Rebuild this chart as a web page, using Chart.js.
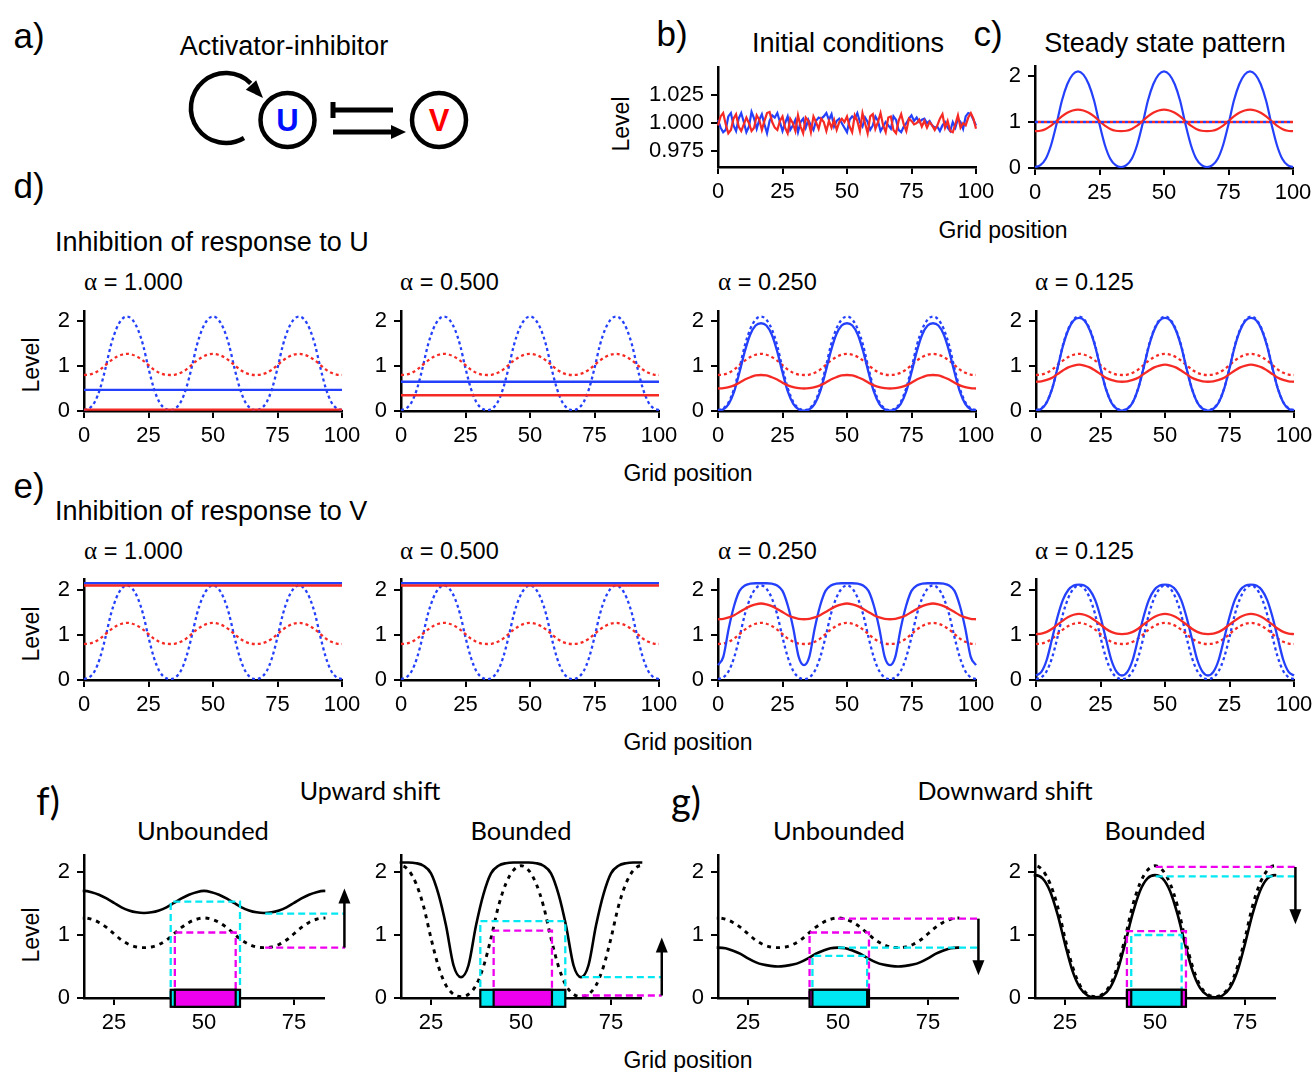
<!DOCTYPE html>
<html>
<head>
<meta charset="utf-8">
<script src="https://cdn.jsdelivr.net/npm/chart.js@4.4.1/dist/chart.umd.min.js"></script>
<style>
  body { margin: 0; width: 1312px; height: 1072px; background: #fff; position: relative; overflow: hidden;
         font-family: 'Liberation Sans', Arial, sans-serif; color: #000; }
  .c { position: absolute; white-space: nowrap; transform: translate(-50%, -50%); line-height: 1; }
  .l { position: absolute; white-space: nowrap; transform: translateY(-50%); line-height: 1; }
  .lv { position: absolute; white-space: nowrap; transform: translate(-50%, -50%) rotate(-90deg); font-size: 23px; line-height: 1; }
  .cal { font-family: Lato, 'Open Sans', sans-serif; }
  .al { font-family: 'Liberation Serif', serif; font-size: 25px; }
  .pl { font-size: 35px; }
  .tt { font-size: 27px; }
  .at { font-size: 23.5px; }
  .gp { font-size: 23px; }
  canvas { position: absolute; }
</style>
</head>
<body>

<!-- a) diagram -->
<svg width="520" height="180" style="position:absolute;left:0;top:0">
  <path d="M 244 138 A 35 35 0 1 1 250.7 83.3" fill="none" stroke="#000" stroke-width="4.5"/>
  <polygon points="263,98 256.2,80.3 245.8,89.7" fill="#000"/>
  <circle cx="287.5" cy="120" r="27" fill="none" stroke="#000" stroke-width="4.5"/>
  <circle cx="439" cy="120" r="27" fill="none" stroke="#000" stroke-width="4.5"/>
  <text x="287.5" y="131" text-anchor="middle" font-family="Liberation Sans, Arial" font-weight="bold" font-size="31" fill="#0010ff">U</text>
  <text x="439" y="131" text-anchor="middle" font-family="Liberation Sans, Arial" font-weight="bold" font-size="31" fill="#ff0000">V</text>
  <line x1="333" y1="110" x2="393" y2="110" stroke="#000" stroke-width="5"/>
  <line x1="333" y1="102" x2="333" y2="118" stroke="#000" stroke-width="5"/>
  <line x1="333" y1="132" x2="393" y2="132" stroke="#000" stroke-width="5"/>
  <polygon points="391,125 406,132 391,139" fill="#000"/>
</svg>

<div class="c pl" style="left:29px;top:35px">a)</div>
<div class="c tt" style="left:284px;top:46px">Activator-inhibitor</div>
<div class="c pl" style="left:672px;top:33px">b)</div>
<div class="c tt" style="left:848px;top:43px">Initial conditions</div>
<div class="c pl" style="left:988px;top:33px">c)</div>
<div class="c tt" style="left:1165px;top:43px">Steady state pattern</div>
<div class="lv" style="left:621px;top:124px">Level</div>
<div class="c gp" style="left:1003px;top:230px">Grid position</div>

<div class="c pl" style="left:29px;top:185px">d)</div>
<div class="l tt" style="left:55px;top:242px">Inhibition of response to U</div>
<div class="l at" style="left:84px;top:282px"><span class="al">α</span> = 1.000</div>
<div class="l at" style="left:400px;top:282px"><span class="al">α</span> = 0.500</div>
<div class="l at" style="left:718px;top:282px"><span class="al">α</span> = 0.250</div>
<div class="l at" style="left:1035px;top:282px"><span class="al">α</span> = 0.125</div>
<div class="lv" style="left:31px;top:365px">Level</div>
<div class="c gp" style="left:688px;top:473px">Grid position</div>

<div class="c pl" style="left:29px;top:485px">e)</div>
<div class="l tt" style="left:55px;top:511px">Inhibition of response to V</div>
<div class="l at" style="left:84px;top:551px"><span class="al">α</span> = 1.000</div>
<div class="l at" style="left:400px;top:551px"><span class="al">α</span> = 0.500</div>
<div class="l at" style="left:718px;top:551px"><span class="al">α</span> = 0.250</div>
<div class="l at" style="left:1035px;top:551px"><span class="al">α</span> = 0.125</div>
<div class="lv" style="left:31px;top:634px">Level</div>
<div class="c gp" style="left:688px;top:742px">Grid position</div>

<div class="c cal" style="left:48px;top:800px;font-size:38px">f)</div>
<div class="c cal" style="left:370px;top:790px;font-size:25px">Upward shift</div>
<div class="c cal" style="left:686px;top:800px;font-size:38px">g)</div>
<div class="c cal" style="left:1005px;top:790px;font-size:25px">Downward shift</div>
<div class="c cal" style="left:203px;top:831px;font-size:25.5px">Unbounded</div>
<div class="c cal" style="left:521px;top:831px;font-size:25.5px">Bounded</div>
<div class="c cal" style="left:839px;top:831px;font-size:25.5px">Unbounded</div>
<div class="c cal" style="left:1155px;top:831px;font-size:25.5px">Bounded</div>
<div class="lv" style="left:31px;top:935px">Level</div>
<div class="c gp" style="left:688px;top:1060px">Grid position</div>

<script>
// ---- data ----
const xTicks = [0, 25, 50, 75, 100];
const xTickLabels = ['0', '25', '50', '75', '100'];
const xTickLabelsE4 = ['0', '25', '50', 'z5', '100'];
const zoomTicks = [25, 50, 75];
const zoomTickLabels = ['25', '50', '75'];
const levelTicks = [0, 1, 2];
const levelTickLabels = ['0', '1', '2'];
const noiseTicks = [0.975, 1.000, 1.025];
const noiseTickLabels = ['0.975', '1.000', '1.025'];

// initial conditions (grid position 0..100)
const noiseBlue = [
  1.003, 0.996, 0.992, 0.994, 1.006, 1.009, 0.998, 0.993, 1.004, 1.009,
  1.001, 0.992, 0.997, 1.010, 1.004, 0.995, 1.003, 1.008, 0.999, 0.991,
  1.002, 1.007, 1.005, 1.009, 1.001, 0.993, 1.000, 1.006, 0.994, 0.998,
  1.003, 0.992, 1.001, 1.004, 0.996, 1.003, 0.998, 0.994, 1.002, 1.005,
  1.004, 1.006, 1.009, 1.003, 1.008, 0.997, 1.002, 1.004, 1.000, 0.996,
  0.992, 1.003, 1.006, 1.004, 1.009, 1.001, 0.997, 1.005, 1.001, 0.994,
  0.998, 1.006, 1.002, 0.993, 0.997, 1.001, 0.998, 0.995, 1.006, 1.003,
  0.994, 0.992, 0.997, 1.000, 1.004, 1.007, 1.002, 1.005, 1.001, 1.003,
  1.004, 1.000, 1.002, 0.998, 0.996, 0.997, 0.993, 0.998, 1.001, 0.996,
  0.993, 1.001, 0.996, 1.004, 1.001, 0.995, 1.006, 1.009, 1.008, 1.003, 0.998
];
const noiseRed = [
  0.998, 1.006, 1.009, 0.999, 0.991, 0.994, 1.004, 1.008, 0.997, 0.993,
  0.999, 1.005, 1.000, 0.993, 0.996, 1.007, 1.003, 0.994, 1.002, 1.009,
  1.010, 1.001, 0.996, 0.994, 1.002, 1.006, 0.996, 0.991, 1.004, 1.000,
  0.993, 1.007, 0.997, 0.991, 1.005, 1.002, 0.992, 1.006, 1.001, 0.995,
  1.004, 1.001, 0.993, 1.002, 0.996, 1.003, 0.994, 1.001, 1.004, 1.001,
  1.006, 0.997, 0.992, 1.007, 1.002, 0.993, 1.009, 1.000, 0.991, 1.006,
  1.008, 0.995, 1.001, 1.009, 0.998, 0.992, 1.005, 1.006, 0.994, 0.991,
  1.002, 1.008, 0.999, 0.993, 1.004, 1.002, 0.999, 1.000, 1.003, 0.997,
  1.002, 0.996, 1.001, 0.998, 0.994, 0.998, 1.004, 1.008, 0.996, 1.002,
  0.993, 0.992, 0.999, 1.007, 0.996, 1.000, 0.998, 1.005, 1.009, 1.004, 0.995
];

// sampled grid positions for the patterns
const gridX = [0, 2.08, 4.17, 6.25, 8.33, 10.42, 12.5, 14.58, 16.67, 18.75, 20.83, 22.92, 25, 27.08, 29.17, 31.25,
  33.33, 35.42, 37.5, 39.58, 41.67, 43.75, 45.83, 47.92, 50, 52.08, 54.17, 56.25, 58.33, 60.42, 62.5, 64.58,
  66.67, 68.75, 70.83, 72.92, 75, 77.08, 79.17, 81.25, 83.33, 85.42, 87.5, 89.58, 91.67, 93.75, 95.83, 97.92, 100];

// steady state pattern (also dotted reference in d, e)
const steadyU = [
  0.02, 0.06, 0.20, 0.50, 0.95, 1.46, 1.82, 2.03, 2.10, 2.03, 1.82, 1.46, 0.95, 0.50, 0.20, 0.06,
  0.02, 0.06, 0.20, 0.50, 0.95, 1.46, 1.82, 2.03, 2.10, 2.03, 1.82, 1.46, 0.95, 0.50, 0.20, 0.06,
  0.02, 0.06, 0.20, 0.50, 0.95, 1.46, 1.82, 2.03, 2.10, 2.03, 1.82, 1.46, 0.95, 0.50, 0.20, 0.06, 0.02];
const steadyV = [
  0.80, 0.81, 0.85, 0.92, 1.02, 1.12, 1.20, 1.25, 1.27, 1.25, 1.20, 1.12, 1.02, 0.92, 0.85, 0.81,
  0.80, 0.81, 0.85, 0.92, 1.02, 1.12, 1.20, 1.25, 1.27, 1.25, 1.20, 1.12, 1.02, 0.92, 0.85, 0.81,
  0.80, 0.81, 0.85, 0.92, 1.02, 1.12, 1.20, 1.25, 1.27, 1.25, 1.20, 1.12, 1.02, 0.92, 0.85, 0.81, 0.80];
const flatX = [0, 100];
const initLevel = [1, 1];

// d) inhibition of response to U
const dU1 = [0.47, 0.47];
const dV1 = [0.03, 0.03];
const dU2 = [0.65, 0.65];
const dV2 = [0.35, 0.35];
const dU3 = [
  0.01, 0.04, 0.16, 0.43, 0.86, 1.33, 1.70, 1.90, 1.95, 1.90, 1.70, 1.33, 0.86, 0.43, 0.16, 0.04,
  0.01, 0.04, 0.16, 0.43, 0.86, 1.33, 1.70, 1.90, 1.95, 1.90, 1.70, 1.33, 0.86, 0.43, 0.16, 0.04,
  0.01, 0.04, 0.16, 0.43, 0.86, 1.33, 1.70, 1.90, 1.95, 1.90, 1.70, 1.33, 0.86, 0.43, 0.16, 0.04, 0.01];
const dV3 = [
  0.50, 0.51, 0.53, 0.57, 0.63, 0.70, 0.75, 0.79, 0.80, 0.79, 0.75, 0.70, 0.63, 0.57, 0.53, 0.51,
  0.50, 0.51, 0.53, 0.57, 0.63, 0.70, 0.75, 0.79, 0.80, 0.79, 0.75, 0.70, 0.63, 0.57, 0.53, 0.51,
  0.50, 0.51, 0.53, 0.57, 0.63, 0.70, 0.75, 0.79, 0.80, 0.79, 0.75, 0.70, 0.63, 0.57, 0.53, 0.51, 0.50];
const dU4 = [
  0.01, 0.05, 0.19, 0.49, 0.95, 1.44, 1.80, 2.01, 2.07, 2.01, 1.80, 1.44, 0.95, 0.49, 0.19, 0.05,
  0.01, 0.05, 0.19, 0.49, 0.95, 1.44, 1.80, 2.01, 2.07, 2.01, 1.80, 1.44, 0.95, 0.49, 0.19, 0.05,
  0.01, 0.05, 0.19, 0.49, 0.95, 1.44, 1.80, 2.01, 2.07, 2.01, 1.80, 1.44, 0.95, 0.49, 0.19, 0.05, 0.01];
const dV4 = [
  0.65, 0.66, 0.69, 0.74, 0.82, 0.90, 0.97, 1.01, 1.03, 1.01, 0.97, 0.90, 0.82, 0.74, 0.69, 0.66,
  0.65, 0.66, 0.69, 0.74, 0.82, 0.90, 0.97, 1.01, 1.03, 1.01, 0.97, 0.90, 0.82, 0.74, 0.69, 0.66,
  0.65, 0.66, 0.69, 0.74, 0.82, 0.90, 0.97, 1.01, 1.03, 1.01, 0.97, 0.90, 0.82, 0.74, 0.69, 0.66, 0.65];

// e) inhibition of response to V
const eU1 = [2.15, 2.15];
const eV1 = [2.10, 2.10];
const eU2 = [2.15, 2.15];
const eV2 = [2.10, 2.10];
const eU3 = [
  0.33, 0.52, 1.15, 1.65, 1.98, 2.10, 2.14, 2.15, 2.15, 2.15, 2.14, 2.10, 1.98, 1.65, 1.15, 0.52,
  0.33, 0.52, 1.15, 1.65, 1.98, 2.10, 2.14, 2.15, 2.15, 2.15, 2.14, 2.10, 1.98, 1.65, 1.15, 0.52,
  0.33, 0.52, 1.15, 1.65, 1.98, 2.10, 2.14, 2.15, 2.15, 2.15, 2.14, 2.10, 1.98, 1.65, 1.15, 0.52, 0.33];
const eV3 = [
  1.35, 1.36, 1.39, 1.44, 1.51, 1.58, 1.64, 1.68, 1.70, 1.68, 1.64, 1.58, 1.51, 1.44, 1.39, 1.36,
  1.35, 1.36, 1.39, 1.44, 1.51, 1.58, 1.64, 1.68, 1.70, 1.68, 1.64, 1.58, 1.51, 1.44, 1.39, 1.36,
  1.35, 1.36, 1.39, 1.44, 1.51, 1.58, 1.64, 1.68, 1.70, 1.68, 1.64, 1.58, 1.51, 1.44, 1.39, 1.36, 1.35];
const eU4 = [
  0.10, 0.18, 0.45, 0.92, 1.40, 1.78, 2.00, 2.10, 2.12, 2.10, 2.00, 1.78, 1.40, 0.92, 0.45, 0.18,
  0.10, 0.18, 0.45, 0.92, 1.40, 1.78, 2.00, 2.10, 2.12, 2.10, 2.00, 1.78, 1.40, 0.92, 0.45, 0.18,
  0.10, 0.18, 0.45, 0.92, 1.40, 1.78, 2.00, 2.10, 2.12, 2.10, 2.00, 1.78, 1.40, 0.92, 0.45, 0.18, 0.10];
const eV4 = [
  1.02, 1.03, 1.07, 1.14, 1.23, 1.32, 1.40, 1.45, 1.47, 1.45, 1.40, 1.32, 1.23, 1.14, 1.07, 1.03,
  1.02, 1.03, 1.07, 1.14, 1.23, 1.32, 1.40, 1.45, 1.47, 1.45, 1.40, 1.32, 1.23, 1.14, 1.07, 1.03,
  1.02, 1.03, 1.07, 1.14, 1.23, 1.32, 1.40, 1.45, 1.47, 1.45, 1.40, 1.32, 1.23, 1.14, 1.07, 1.03, 1.02];

// f/g) thresholds: boxes [left, right, top], lines [from, to, level], arrows [x, from, to]
const fUnbCyanBox = [40.75, 60.0, 1.53];
const fUnbMagBox = [41.9, 58.8, 1.04];
const fUnbCyanLine = [67.0, 89.2, 1.34];
const fUnbMagLine = [67.0, 89.2, 0.80];
const fUnbArrow = [89.0, 0.80, 1.74];

const fBndCyanBox = [38.7, 62.3, 1.22];
const fBndMagBox = [42.4, 58.6, 1.07];
const fBndCyanLine = [66.9, 89.1, 0.33];
const fBndMagLine = [66.9, 89.1, 0.04];
const fBndArrow = [89.1, 0.04, 0.96];

const gUnbMagBox = [42.1, 58.6, 1.04];
const gUnbCyanBox = [42.9, 58.1, 0.67];
const gUnbMagLine = [50.0, 89.0, 1.26];
const gUnbCyanLine = [50.0, 89.0, 0.80];
const gUnbArrow = [89.0, 1.26, 0.36];

const gBndMagBox = [42.2, 58.6, 1.06];
const gBndCyanBox = [43.4, 57.4, 1.00];
const gBndMagLine = [50.2, 89.0, 2.08];
const gBndCyanLine = [50.2, 89.0, 1.93];
const gBndArrow = [89.0, 2.08, 1.17];

// ---- styling ----
const BLUE = 'rgb(36,64,250)';
const RED = 'rgb(246,42,36)';
const CYAN = 'rgb(0,232,242)';
const MAGENTA = 'rgb(238,0,238)';
const BAR_LO = -0.14, BAR_HI = 0.13;
const YW = 75, XH = 36, PT = 24, PR = 34;
const tickFont = {family: "'Liberation Sans', Arial, sans-serif", size: 22};

function pts(xs, ys) {
  return ys.map((v, i) => ({x: xs[i], y: v}));
}
function curve(xs, ys, color, width, dash, order) {
  return {data: pts(xs, ys), borderColor: color, borderWidth: width, borderDash: dash || [],
    cubicInterpolationMode: 'monotone', pointRadius: 0, fill: false, order: order};
}
function jagged(xs, ys, color, order) {
  return {data: pts(xs, ys), borderColor: color, borderWidth: 2.2, tension: 0, pointRadius: 0, fill: false, order: order};
}
function dashBox(b, color) {
  return {data: [{x: b[0], y: 0}, {x: b[0], y: b[2]}, {x: b[1], y: b[2]}, {x: b[1], y: 0}],
    borderColor: color, borderWidth: 2.3, borderDash: [7, 4], tension: 0, pointRadius: 0, fill: false, clip: false, order: 0};
}
function dashLine(b, color) {
  return {data: [{x: b[0], y: b[2]}, {x: b[1], y: b[2]}],
    borderColor: color, borderWidth: 2.3, borderDash: [7, 4], tension: 0, pointRadius: 0, fill: false, clip: false, order: 0};
}

// bars under the axis and vertical arrows, drawn through the chart scales
function markPlugin(bars, arrows) {
  return {
    id: 'marks',
    afterDraw(chart) {
      const ctx = chart.ctx, x = chart.scales.x, y = chart.scales.y;
      ctx.save();
      bars.forEach(b => {
        const l = x.getPixelForValue(b[0]), r = x.getPixelForValue(b[1]);
        const t = y.getPixelForValue(BAR_HI), bt = y.getPixelForValue(BAR_LO);
        ctx.fillStyle = b[2];
        ctx.fillRect(l, t, r - l, bt - t);
        ctx.strokeStyle = '#000';
        ctx.lineWidth = 2.2;
        ctx.strokeRect(l, t, r - l, bt - t);
      });
      arrows.forEach(a => {
        const px = x.getPixelForValue(a[0]), p0 = y.getPixelForValue(a[1]), p1 = y.getPixelForValue(a[2]);
        const dir = p1 < p0 ? -1 : 1;
        ctx.strokeStyle = '#000';
        ctx.fillStyle = '#000';
        ctx.lineWidth = 2.5;
        ctx.beginPath();
        ctx.moveTo(px, p0);
        ctx.lineTo(px, p1 - dir * 8);
        ctx.stroke();
        ctx.beginPath();
        ctx.moveTo(px, p1);
        ctx.lineTo(px - 6, p1 - dir * 15);
        ctx.lineTo(px + 6, p1 - dir * 15);
        ctx.closePath();
        ctx.fill();
      });
      ctx.restore();
    }
  };
}

function makeChart(area, datasets, o) {
  const cv = document.createElement('canvas');
  const w = area[2] - area[0] + YW + PR, h = area[3] - area[1] + PT + XH;
  cv.width = w;
  cv.height = h;
  cv.style.left = (area[0] - YW) + 'px';
  cv.style.top = (area[1] - PT) + 'px';
  cv.style.width = w + 'px';
  cv.style.height = h + 'px';
  document.body.appendChild(cv);
  const axisBase = {
    type: 'linear', bounds: 'data',
    grid: {drawOnChartArea: false, drawTicks: true, tickLength: 7, color: '#000', lineWidth: 2},
    border: {display: true, color: '#000', width: 2.5}
  };
  new Chart(cv, {
    type: 'line',
    data: {datasets: datasets},
    options: {
      responsive: false, animation: false, events: [],
      layout: {padding: {left: 0, top: PT, right: PR, bottom: 0}},
      plugins: {legend: {display: false}, tooltip: {enabled: false}},
      elements: {point: {radius: 0}},
      scales: {
        x: Object.assign({}, axisBase, {
          afterDataLimits: s => { s.min = o.xMin; s.max = o.xMax; },
          afterBuildTicks: s => { s.ticks = o.xTicks.map(v => ({value: v})); },
          afterFit: s => { s.height = XH; },
          ticks: {callback: (v, i) => o.xLabels[i], font: tickFont, color: '#000', padding: 5, maxRotation: 0, autoSkip: false}
        }),
        y: Object.assign({}, axisBase, {
          min: o.yMin, max: o.yMax,
          afterBuildTicks: s => { s.ticks = o.yTicks.map(v => ({value: v})); },
          afterFit: s => { s.width = YW; },
          ticks: {callback: (v, i) => o.yLabels[i], font: tickFont, color: '#000', padding: 7, autoSkip: false}
        })
      }
    },
    plugins: [markPlugin(o.bars || [], o.arrows || [])]
  });
}

const fullX = {xMin: 0, xMax: 100, xTicks: xTicks, xLabels: xTickLabels, yTicks: levelTicks, yLabels: levelTickLabels};
const noiseX = noiseBlue.map((v, i) => i);

// b) initial conditions
makeChart([718, 67, 976, 167], [
  jagged(noiseX, noiseRed, RED, 1),
  jagged(noiseX, noiseBlue, BLUE, 2)
], {xMin: 0, xMax: 100, xTicks: xTicks, xLabels: xTickLabels, yMin: 0.961, yMax: 1.050, yTicks: noiseTicks, yLabels: noiseTickLabels});

// c) steady state
const dotRed = Object.assign(curve(flatX, initLevel, RED, 2.6, [3, 3], 0), {borderDashOffset: 3});
makeChart([1035, 66, 1293, 168], [
  dotRed,
  curve(flatX, initLevel, BLUE, 2.6, [3, 3], 0),
  curve(gridX, steadyV, RED, 2.2, null, 1),
  curve(gridX, steadyU, BLUE, 2.2, null, 2)
], Object.assign({}, fullX, {yMin: 0, yMax: 2.217}));

// d) and e) rows
const colsX = [[84, 342], [401, 659], [718, 976], [1036, 1294]];
const dRows = [[flatX, dU1, dV1], [flatX, dU2, dV2], [gridX, dU3, dV3], [gridX, dU4, dV4]];
const eRows = [[flatX, eU1, eV1], [flatX, eU2, eV2], [gridX, eU3, eV3], [gridX, eU4, eV4]];
function rowCharts(rows, top, bottom, yMax, labelsFor) {
  rows.forEach((r, i) => {
    makeChart([colsX[i][0], top, colsX[i][1], bottom], [
      curve(r[0], r[2], RED, 2.3, null, 1),
      curve(r[0], r[1], BLUE, 2.3, null, 2),
      curve(gridX, steadyV, RED, 2.3, [3, 3], 3),
      curve(gridX, steadyU, BLUE, 2.3, [3, 3], 4)
    ], Object.assign({}, fullX, {yMin: 0, yMax: yMax, xLabels: labelsFor(i)}));
  });
}
rowCharts(dRows, 311, 411, 2.222, i => xTickLabels);
rowCharts(eRows, 579, 680, 2.244, i => (i === 3 ? xTickLabelsE4 : xTickLabels));

// f) and g)
const zoomOpts = {xMin: 16.67, xMax: 83.33, xTicks: zoomTicks, xLabels: zoomTickLabels, yMin: 0, yMax: 2.27, yTicks: levelTicks, yLabels: levelTickLabels};
function shiftChart(x0, solid, dotted, boxes, lines, bars, arrow) {
  const ds = [
    curve(gridX, solid, '#000', 2.6, null, 2),
    curve(gridX, dotted, '#000', 2.9, [4, 5], 3)
  ];
  boxes.forEach(b => ds.push(dashBox(b[0], b[1])));
  lines.forEach(l => ds.push(dashLine(l[0], l[1])));
  makeChart([x0, 855, x0 + 240, 998], ds, Object.assign({}, zoomOpts, {bars: bars, arrows: [arrow]}));
}
shiftChart(84, eV3, steadyV,
  [[fUnbCyanBox, CYAN], [fUnbMagBox, MAGENTA]], [[fUnbCyanLine, CYAN], [fUnbMagLine, MAGENTA]],
  [[fUnbCyanBox[0], fUnbCyanBox[1], CYAN], [fUnbMagBox[0], fUnbMagBox[1], MAGENTA]], fUnbArrow);
shiftChart(401, eU3, steadyU,
  [[fBndCyanBox, CYAN], [fBndMagBox, MAGENTA]], [[fBndCyanLine, CYAN], [fBndMagLine, MAGENTA]],
  [[fBndCyanBox[0], fBndCyanBox[1], CYAN], [fBndMagBox[0], fBndMagBox[1], MAGENTA]], fBndArrow);
shiftChart(718, dV3, steadyV,
  [[gUnbMagBox, MAGENTA], [gUnbCyanBox, CYAN]], [[gUnbMagLine, MAGENTA], [gUnbCyanLine, CYAN]],
  [[gUnbMagBox[0], gUnbMagBox[1], MAGENTA], [gUnbCyanBox[0], gUnbCyanBox[1], CYAN]], gUnbArrow);
shiftChart(1035, dU3, steadyU,
  [[gBndMagBox, MAGENTA], [gBndCyanBox, CYAN]], [[gBndMagLine, MAGENTA], [gBndCyanLine, CYAN]],
  [[gBndMagBox[0], gBndMagBox[1], MAGENTA], [gBndCyanBox[0], gBndCyanBox[1], CYAN]], gBndArrow);
</script>
</body>
</html>
